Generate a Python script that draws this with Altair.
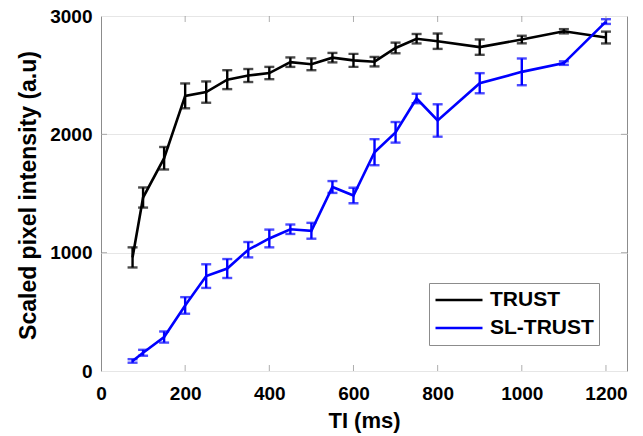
import altair as alt
import pandas as pd

# ---- data ----
ti = [75, 100, 150, 200, 250, 300, 350, 400, 450, 500, 550, 600, 650, 700, 750, 800, 900, 1000, 1100, 1200]
trust_mean = [960, 1466, 1798, 2325, 2357, 2462, 2497, 2518, 2610, 2592, 2648, 2625, 2614, 2730, 2808, 2787, 2737, 2801, 2871, 2818]
trust_err = [85, 85, 95, 105, 90, 80, 55, 52, 40, 50, 40, 55, 40, 45, 40, 65, 65, 32, 18, 50]
sl_mean = [85, 154, 287, 554, 802, 866, 1025, 1120, 1198, 1185, 1555, 1483, 1849, 2017, 2303, 2117, 2432, 2528, 2602, 2953]
sl_err = [15, 25, 47, 70, 100, 80, 65, 75, 40, 67, 50, 65, 110, 87, 40, 137, 85, 113, 15, 20]

series_names = ["TRUST", "SL-TRUST"]
series_colors = ["#000000", "#0000ff"]
x_ticks = [0, 200, 400, 600, 800, 1000, 1200]
y_ticks = [0, 1000, 2000, 3000]

rows = []
for name, means, errs in [("TRUST", trust_mean, trust_err), ("SL-TRUST", sl_mean, sl_err)]:
    for t, m, e in zip(ti, means, errs):
        rows.append({"TI": t, "series": name, "mean": m, "lo": m - e, "hi": m + e})
df = pd.DataFrame(rows)

FONT = "Liberation Sans"
GRAY = "#8c8c8c"

xscale = alt.Scale(domain=[0, 1250], nice=False, zero=False)
yscale = alt.Scale(domain=[0, 3000], nice=False, zero=False)
cscale = alt.Scale(domain=series_names, range=series_colors)

x_axis = alt.Axis(values=x_ticks, format="d", tickSize=0, domain=False, grid=False,
                  labelFont=FONT, labelFontSize=19, labelFontWeight="bold", labelColor="black",
                  labelPadding=13, labelFlush=False,
                  title="TI (ms)", titleFont=FONT, titleFontSize=22, titleFontWeight="bold",
                  titleColor="black", titleY=56, titleBaseline="alphabetic")
y_axis = alt.Axis(values=y_ticks, format="d", tickSize=0, domain=False, grid=True,
                  gridColor="#e6e6e6", gridWidth=1,
                  labelFont=FONT, labelFontSize=19, labelFontWeight="bold", labelColor="black",
                  labelPadding=9, labelFlush=False,
                  title="Scaled pixel intensity (a.u)", titleFont=FONT, titleFontSize=23,
                  titleFontWeight="bold", titleColor="black", titleX=-66, titleY=179,
                  titleAngle=270, titleBaseline="alphabetic", titleAlign="center")

legend = alt.Legend(title=None, orient="none", legendX=328, legendY=267,
                    symbolType="stroke", symbolSize=2209, symbolStrokeWidth=2.5,
                    labelFont=FONT, labelFontSize=21, labelFontWeight="bold", labelColor="black",
                    labelOffset=6, clipHeight=24, rowPadding=4, padding=5,
                    strokeColor=GRAY, fillColor="white")


def series_layers(name, first):
    base = alt.Chart(df).transform_filter(alt.datum.series == name)
    col = alt.Color("series:N", scale=cscale, legend=legend if first else None)
    if first:
        xenc = alt.X("TI:Q", scale=xscale, axis=x_axis)
        yenc = alt.Y("mean:Q", scale=yscale, axis=y_axis)
    else:
        xenc = alt.X("TI:Q", scale=xscale, title="TI (ms)")
        yenc = alt.Y("mean:Q", scale=yscale, title="Scaled pixel intensity (a.u)")
    line = base.mark_line(strokeWidth=2.6).encode(x=xenc, y=yenc, color=col)
    bars = base.mark_rule(strokeWidth=2.4).encode(
        x="TI:Q", y=alt.Y("lo:Q", title="Scaled pixel intensity (a.u)"), y2="hi:Q",
        color=alt.Color("series:N", scale=cscale, legend=None))
    cap_lo = base.mark_tick(orient="horizontal", size=10, thickness=2.4).encode(
        x="TI:Q", y=alt.Y("lo:Q", title="Scaled pixel intensity (a.u)"),
        color=alt.Color("series:N", scale=cscale, legend=None))
    cap_hi = base.mark_tick(orient="horizontal", size=10, thickness=2.4).encode(
        x="TI:Q", y=alt.Y("hi:Q", title="Scaled pixel intensity (a.u)"),
        color=alt.Color("series:N", scale=cscale, legend=None))
    return [line, bars, cap_lo, cap_hi]


# inward box ticks (MATLAB style)
xt = pd.DataFrame({"v": x_ticks[1:]})
yt = pd.DataFrame({"v": y_ticks[1:-1]})
tick_bottom = alt.Chart(xt).mark_tick(orient="vertical", size=12, thickness=1, color=GRAY, clip=True).encode(
    x=alt.X("v:Q", title="TI (ms)"), y=alt.datum(0))
tick_top = alt.Chart(xt).mark_tick(orient="vertical", size=12, thickness=1, color=GRAY, clip=True).encode(
    x=alt.X("v:Q", title="TI (ms)"), y=alt.datum(3000))
tick_left = alt.Chart(yt).mark_tick(orient="horizontal", size=12, thickness=1, color=GRAY, clip=True).encode(
    y=alt.Y("v:Q", title="Scaled pixel intensity (a.u)"), x=alt.datum(0))
tick_right = alt.Chart(yt).mark_tick(orient="horizontal", size=12, thickness=1, color=GRAY, clip=True).encode(
    y=alt.Y("v:Q", title="Scaled pixel intensity (a.u)"), x=alt.datum(1250))

layers = series_layers("TRUST", True) + series_layers("SL-TRUST", False) + [tick_bottom, tick_top, tick_left, tick_right]

chart = alt.layer(*layers).properties(
    width=526, height=355,
    autosize=alt.AutoSizeParams(type="none"),
    padding={"left": 101, "top": 16, "right": 16, "bottom": 65},
    background="white",
).configure_view(stroke=GRAY, strokeWidth=1)

chart.save("out.html", embed_options={"renderer": "svg", "actions": False})
